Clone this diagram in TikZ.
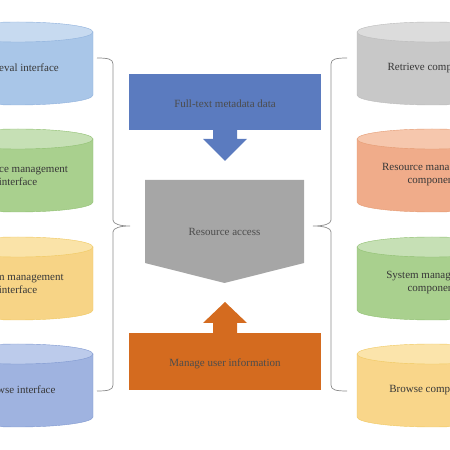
\documentclass[tikz,border=0pt]{standalone}
\usepackage{fontspec}
\setmainfont{Liberation Serif}
\usetikzlibrary{calc}
\definecolor{blueblk}{HTML}{5B7BBF}
\definecolor{grayblk}{HTML}{A6A6A6}
\definecolor{orangeblk}{HTML}{D46B1F}
\tikzset{
	cyltext/.style={align=center, text=black!78, font=\fontsize{11}{13}\selectfont},
	blktext/.style={text=black!70, font=\fontsize{11}{13}\selectfont},
	bracket/.style={draw=black!45, line width=0.7pt},
}
\def\datacyl[#1](#2,#3)#4#5#6{%
	\draw[#1] (#2-75,#3) -- (#2-75,#3-63) arc (180:360:75 and 10) -- (#2+75,#3) -- cycle;
	\draw[#1, fill=#4] (#2,#3) ellipse (75 and 10);
	\node[cyltext] (#5) at (#2,#3-36) {#6};
}
\begin{document}
\begin{tikzpicture}[x=1pt, y=1pt]
			%%%%% START %%%%%
			\useasboundingbox (0,0) rectangle (450,450);
			\clip (0,0) rectangle (450,450);
			
			\datacyl[fill={rgb,255:red,169;green,198;blue,232}, draw={rgb,255:red,142;green,176;blue,220}](18,418){{rgb,255:red,199;green,218;blue,240}}{retrieval}{Retrieval interface}
			\datacyl[fill={rgb,255:red,169;green,208;blue,142}, draw={rgb,255:red,143;green,191;blue,112}](18,311){{rgb,255:red,198;green,224;blue,181}}{resmgmt}{Resource management\\interface}
			\datacyl[fill={rgb,255:red,247;green,212;blue,134}, draw={rgb,255:red,240;green,200;blue,96}](18,203){{rgb,255:red,250;green,227;blue,168}}{sysmgmt}{System management\\interface}
			\datacyl[fill={rgb,255:red,159;green,179;blue,224}, draw={rgb,255:red,127;green,152;blue,208}](18,96){{rgb,255:red,188;green,203;blue,235}}{browse}{Browse interface}
			
			\datacyl[fill={rgb,255:red,200;green,200;blue,200}, draw={rgb,255:red,187;green,187;blue,187}](432,418){{rgb,255:red,220;green,220;blue,220}}{retrievecomp}{Retrieve component}
			\datacyl[fill={rgb,255:red,240;green,172;blue,138}, draw={rgb,255:red,228;green,154;blue,114}](432,311){{rgb,255:red,246;green,199;blue,173}}{resmgmtcomp}{Resource management\\component}
			\datacyl[fill={rgb,255:red,169;green,208;blue,142}, draw={rgb,255:red,143;green,191;blue,112}](432,203){{rgb,255:red,198;green,224;blue,181}}{sysmgmtcomp}{System management\\component}
			\datacyl[fill={rgb,255:red,249;green,214;blue,138}, draw={rgb,255:red,240;green,200;blue,96}](432,96){{rgb,255:red,251;green,228;blue,171}}{browsecomp}{Browse component}
			
			\draw[bracket] (97,392) .. controls (108,392) and (113,391) .. (113,386) -- (113,230) .. controls (113,226) and (120,224) .. (130,224) .. controls (120,224) and (113,222) .. (113,218) -- (113,65) .. controls (113,60) and (108,59) .. (97,59);
			\draw[bracket] (347,392) .. controls (336,392) and (331,391) .. (331,386) -- (331,230) .. controls (331,226) and (324,224) .. (313,224) .. controls (324,224) and (331,222) .. (331,218) -- (331,65) .. controls (331,60) and (336,59) .. (347,59);
			
			\fill[blueblk] (129,376) rectangle (321,320);
			\fill[blueblk] (213,320) -- (213,311) -- (203,311) -- (225,289) -- (247,311) -- (237,311) -- (237,320) -- cycle;
			\node[blktext] (fulltext) at (225,346) {Full-text metadata data};
			
			\fill[grayblk] (145,270) -- (304,270) -- (304,187) -- (224.5,167) -- (145,187) -- cycle;
			\node[blktext] (access) at (224.5,218) {Resource access};
			
			\fill[orangeblk] (129,117) rectangle (321,60);
			\fill[orangeblk] (213,117) -- (213,127) -- (203,127) -- (225,148) -- (247,127) -- (237,127) -- (237,117) -- cycle;
			\node[blktext] (userinfo) at (225,86) {Manage user information};
			
			%%%%% END %%%%%
\end{tikzpicture}
\end{document}
